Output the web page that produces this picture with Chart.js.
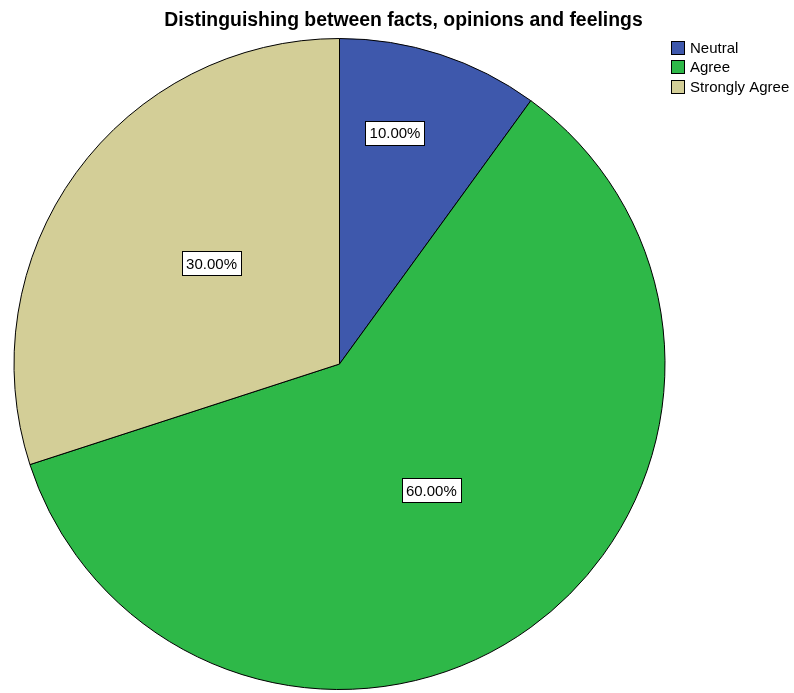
<!DOCTYPE html>
<html>
<head>
<meta charset="utf-8">
<script src="https://cdn.jsdelivr.net/npm/chart.js@4/dist/chart.umd.min.js"></script>
<style>
  html, body { margin: 0; padding: 0; background: #fff; }
  #wrap { width: 794px; height: 693px; }
</style>
</head>
<body>
<div id="wrap"><canvas id="pieChart" width="794" height="693"></canvas></div>
<script>
// Data
var title = 'Distinguishing between facts, opinions and feelings';
var categories = ['Neutral', 'Agree', 'Strongly Agree'];
var percents = [10, 60, 30];
var colors = ['#3E58AC', '#2EB848', '#D3CE97'];

// where each value label sits inside its slice:
// share of the slice's sweep, and share of the radius
var labelAngle = [0.375, 0.50, 0.52];
var labelRadius = [0.73, 0.48, 0.50];

var font = '"Liberation Sans", Arial, sans-serif';

// draw the boxed percentage labels on the slices
var sliceLabels = {
  id: 'sliceLabels',
  afterDatasetsDraw: function (chart) {
    var ctx = chart.ctx;
    var meta = chart.getDatasetMeta(0);
    ctx.save();
    ctx.font = '15px ' + font;
    ctx.textAlign = 'center';
    ctx.textBaseline = 'middle';
    meta.data.forEach(function (arc, i) {
      var p = arc.getProps(['x', 'y', 'startAngle', 'endAngle', 'outerRadius'], true);
      var ang = p.startAngle + (p.endAngle - p.startAngle) * labelAngle[i];
      var r = p.outerRadius * labelRadius[i];
      var x = p.x + Math.cos(ang) * r;
      var y = p.y + Math.sin(ang) * r;
      var txt = percents[i].toFixed(2) + '%';
      var w = Math.round(ctx.measureText(txt).width + 8);
      var h = 24;
      var bx = Math.round(x - w / 2) + 0.5;
      var by = Math.round(y - h / 2) + 0.5;
      ctx.fillStyle = '#fff';
      ctx.fillRect(bx, by, w, h);
      ctx.strokeStyle = '#000';
      ctx.lineWidth = 1;
      ctx.strokeRect(bx, by, w, h);
      ctx.fillStyle = '#000';
      ctx.fillText(txt, x, y + 1);
    });
    ctx.restore();
  }
};

// title and legend drawn in the corner like the original
var titleAndLegend = {
  id: 'titleAndLegend',
  afterDraw: function (chart) {
    var ctx = chart.ctx;
    ctx.save();
    ctx.fillStyle = '#000';
    ctx.font = 'bold 19.4px ' + font;
    ctx.textAlign = 'center';
    ctx.textBaseline = 'alphabetic';
    ctx.fillText(title, 403.5, 26);

    ctx.font = '15px ' + font;
    ctx.textAlign = 'left';
    ctx.textBaseline = 'middle';
    categories.forEach(function (c, i) {
      var y = 47.5 + i * 19.5;
      var by = Math.round(y - 7) + 0.5;
      ctx.fillStyle = colors[i];
      ctx.fillRect(671.5, by, 13, 13);
      ctx.strokeStyle = '#000';
      ctx.lineWidth = 1;
      ctx.strokeRect(671.5, by, 13, 13);
      ctx.fillStyle = '#000';
      ctx.fillText(c, 690, y + 1);
    });
    ctx.restore();
  }
};

var pieCtx = document.getElementById('pieChart').getContext('2d');

var pieChart = new Chart(pieCtx, {
  type: 'pie',
  data: {
    labels: categories,
    datasets: [{
      data: percents,
      backgroundColor: colors,
      borderColor: '#000',
      borderWidth: 1
    }]
  },
  options: {
    responsive: false,
    animation: false,
    layout: {
      padding: { left: 13, right: 128, top: 38, bottom: 3 }
    },
    plugins: {
      legend: { display: false },
      title: { display: false },
      tooltip: { enabled: false }
    }
  },
  plugins: [sliceLabels, titleAndLegend]
});
</script>
</body>
</html>
